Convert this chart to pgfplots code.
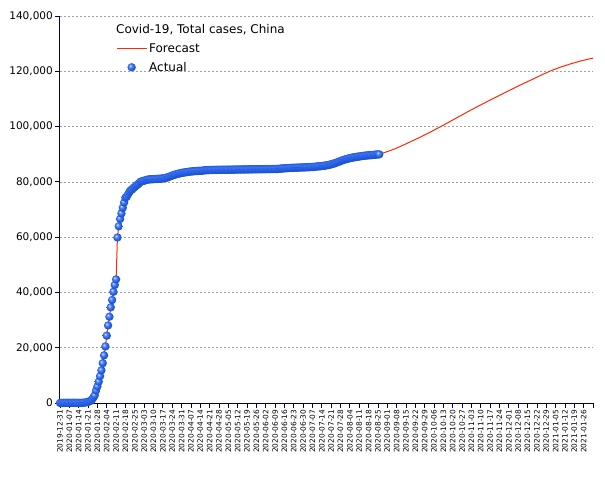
\documentclass[border=0pt]{standalone}
\usepackage{fontspec}
\setmainfont{DejaVu Sans}
\usepackage{pgfplots}
\pgfplotsset{compat=1.18}
\usepackage{pgfplotstable}
\definecolor{axisnavy}{RGB}{0,0,90}
\definecolor{fcred}{RGB}{255,40,0}
\definecolor{ballblue}{RGB}{35,95,235}
\pgfdeclareradialshading{sball}{\pgfqpoint{-10bp}{10bp}}{%
  color(0bp)=(ballblue!15!white);
  color(8bp)=(ballblue!70!white);
  color(18bp)=(ballblue);
  color(32bp)=(ballblue!75!black);
  color(50bp)=(ballblue!40!black)}
\pgfdeclareplotmark{sball}{%
  \pgfpathcircle{\pgfpointorigin}{\pgfplotmarksize}%
  \pgfshadepath{sball}{0}%
  \pgfusepath{discard}}

\pgfplotstableread{
day cases
0 27
1 27
2 27
3 44
4 44
5 59
6 59
7 59
8 59
9 59
10 59
11 59
12 59
13 41
14 41
15 41
16 45
17 62
18 121
19 198
20 291
21 440
22 571
23 830
24 1297
25 1985
26 2761
27 4537
28 5997
29 7736
30 9720
31 11821
32 14411
33 17238
34 20471
35 24363
36 28060
37 31211
38 34598
39 37251
40 40235
41 42708
42 44730
43 59882
44 63932
45 66576
46 68584
47 70635
48 72528
49 74279
50 74675
51 75569
52 76392
53 77041
54 77262
55 77779
56 78190
57 78630
58 78961
59 79394
60 79968
61 80174
62 80303
63 80424
64 80581
65 80734
66 80859
67 80904
68 80924
69 80955
70 80983
71 81021
72 81048
73 81077
74 81105
75 81141
76 81187
77 81238
78 81335
79 81433
80 81553
81 81723
82 81890
83 82113
84 82258
85 82462
86 82595
87 82749
88 82875
89 82995
90 83106
91 83232
92 83316
93 83400
94 83472
95 83538
96 83620
97 83690
98 83745
99 83797
100 83849
101 83880
102 83920
103 83960
104 83990
105 84010
106 84030
107 84060
108 84180
109 84201
110 84237
111 84250
112 84287
113 84302
114 84311
115 84324
116 84338
117 84341
118 84347
119 84369
120 84373
121 84385
122 84388
123 84391
124 84393
125 84400
126 84404
127 84407
128 84416
129 84416
130 84425
131 84450
132 84458
133 84465
134 84469
135 84478
136 84484
137 84494
138 84503
139 84506
140 84507
141 84520
142 84522
143 84525
144 84536
145 84543
146 84547
147 84547
148 84570
149 84572
150 84575
151 84577
152 84582
153 84597
154 84602
155 84614
156 84620
157 84624
158 84636
159 84640
160 84652
161 84659
162 84671
163 84678
164 84729
165 84778
166 84822
167 84866
168 84903
169 84940
170 84970
171 84991
172 85015
173 85051
174 85081
175 85103
176 85121
177 85133
178 85151
179 85175
180 85190
181 85203
182 85227
183 85236
184 85264
185 85282
186 85307
187 85345
188 85362
189 85395
190 85437
191 85481
192 85546
193 85585
194 85614
195 85673
196 85719
197 85791
198 85861
199 85930
200 86011
201 86111
202 86230
203 86351
204 86483
205 86618
206 86783
207 86949
208 87157
209 87364
210 87530
211 87722
212 87908
213 88056
214 88162
215 88335
216 88446
217 88579
218 88694
219 88777
220 88867
221 88952
222 89029
223 89109
224 89187
225 89260
226 89317
227 89398
228 89453
229 89521
230 89569
231 89599
232 89647
233 89685
234 89737
235 89778
236 89837
237 89883
238 89913
239 89954
}\actual

\pgfplotstableread{
day cases
239 89954
245 90950
251 92000
257 93300
263 94650
270 96250
277 97950
284 99750
291 101550
298 103450
305 105300
312 107100
319 108850
326 110550
333 112250
340 113950
347 115600
354 117150
361 118800
368 120300
375 121550
382 122650
389 123650
396 124450
399 124750
}\forecast

\begin{document}
\begin{tikzpicture}
\useasboundingbox (-60pt,-77pt) rectangle (545pt,403pt);
\begin{axis}[
  at={(0pt,0pt)}, anchor=south west,
  scale only axis, width=533pt, height=387pt,
  xmin=0, xmax=399, ymin=0, ymax=140000,
  clip=false,
  axis x line*=bottom, axis y line*=left,
  axis line style={axisnavy, line width=1pt, -},
  xtick={0,7,...,399},
  xticklabels={2019-12-31,2020-01-07,2020-01-14,2020-01-21,2020-01-28,2020-02-04,2020-02-11,2020-02-18,2020-02-25,2020-03-03,2020-03-10,2020-03-17,2020-03-24,2020-03-31,2020-04-07,2020-04-14,2020-04-21,2020-04-28,2020-05-05,2020-05-12,2020-05-19,2020-05-26,2020-06-02,2020-06-09,2020-06-16,2020-06-23,2020-06-30,2020-07-07,2020-07-14,2020-07-21,2020-07-28,2020-08-04,2020-08-11,2020-08-18,2020-08-25,2020-09-01,2020-09-08,2020-09-15,2020-09-22,2020-09-29,2020-10-06,2020-10-13,2020-10-20,2020-10-27,2020-11-03,2020-11-10,2020-11-17,2020-11-24,2020-12-01,2020-12-08,2020-12-15,2020-12-22,2020-12-29,2021-01-05,2021-01-12,2021-01-19,2021-01-26,{}},
  x tick label style={rotate=90, anchor=east, font=\fontsize{7.4}{8}\selectfont, inner sep=1.5pt},
  ytick={0,20000,...,140000},
  y tick label style={font=\fontsize{10.5}{12}\selectfont, inner sep=2pt},
  scaled y ticks=false,
  yticklabel style={/pgf/number format/.cd, fixed, 1000 sep={,}, assume math mode=true},
  tick align=outside,
  major tick length=5pt,
  tick style={axisnavy, line width=0.8pt},
  ymajorgrids,
  grid style={gray!75, dash pattern=on 2pt off 2pt, line width=0.5pt},
  legend style={draw=none, fill=none, at={(rel axis cs:0.105,0.934)}, anchor=north west,
    font=\fontsize{12}{14}\selectfont, row sep=4pt, inner sep=0pt, nodes={inner sep=2pt}},
  legend cell align=left,
  legend image code/.code={\draw[mark repeat=2,mark phase=2,#1] plot coordinates {(0pt,0pt) (15pt,0pt) (30pt,0pt)};},
]
\addplot[fcred, line width=1pt, forget plot] table[x=day,y=cases] {\actual};
\addplot[fcred, line width=1pt] table[x=day,y=cases] {\forecast};
\addlegendentry{Forecast}
\addplot[only marks, mark=sball, mark size=4.2pt] table[x=day,y=cases] {\actual};
\addlegendentry{Actual}
\node[anchor=west, font=\fontsize{12}{14}\selectfont, inner sep=0pt] at (rel axis cs:0.105,0.964) {Covid-19, Total cases, China};
\end{axis}
\end{tikzpicture}
\end{document}
